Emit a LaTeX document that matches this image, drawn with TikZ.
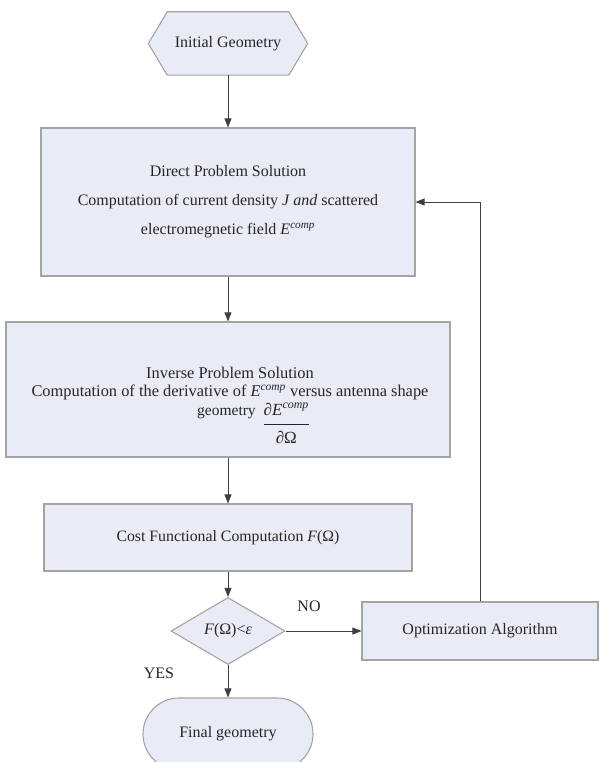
\documentclass[tikz,border=0pt]{standalone}
\usepackage{fontspec}
\setmainfont{Liberation Serif}
\usetikzlibrary{shapes.geometric,arrows.meta}
\definecolor{boxfill}{HTML}{E9ECF6}
\definecolor{boxline}{HTML}{A4A4A4}
\definecolor{conn}{HTML}{404040}
\tikzset{
  box/.style={draw=boxline, fill=boxfill, line width=1.1pt, rectangle, inner sep=0pt},
  txt/.style={font=\fontsize{16}{18}\selectfont, text=black!85, align=center},
  arr/.style={draw=conn, line width=0.8pt, -{Triangle[length=9pt,width=7pt]}},
  lbl/.style={font=\fontsize{16}{18}\selectfont, text=black!85},
}
\begin{document}
\begin{tikzpicture}[x=1pt,y=-1pt]
\clip (0,0) rectangle (615,762);
\fill[white] (0,0) rectangle (615,762);
% start
\node[inner sep=0pt, minimum width=159pt, minimum height=63pt] (init) at (228,43.5) {};
\filldraw[draw=boxline, fill=boxfill, line width=1.1pt]
  (init.west) -- ([xshift=19pt]init.north west) -- ([xshift=-19pt]init.north east)
  -- (init.east) -- ([xshift=-19pt]init.south east) -- ([xshift=19pt]init.south west) -- cycle;
\node[txt] (initT) at (init.center) {Initial Geometry};
% direct
\node[box, txt, minimum width=374pt, minimum height=148pt, font=\fontsize{16}{29}\selectfont] (direct) at (228,202)
  {Direct Problem Solution\\Computation of current density \textit{J and} scattered\\electromegnetic field \textit{E}\textsuperscript{\textit{comp}}};
% inverse
\node[box, minimum width=444pt, minimum height=135pt] (inverse) at (228,389.5) {};
\node[txt, font=\fontsize{16.4}{17.5}\selectfont, anchor=north] (invT) at (230,364)
  {Inverse Problem Solution\\Computation of the derivative of \textit{E}\textsuperscript{\textit{comp}} versus antenna shape};
\node[txt, font=\fontsize{15.5}{18}\selectfont, anchor=base west, inner sep=0pt] (invF) at (197,415)
  {geometry\hspace{8pt}\begin{tabular}[t]{@{}c@{}}{\fontsize{17}{18}\selectfont\textit{∂E}\textsuperscript{\textit{comp}}}\\[4pt]\hline\rule{0pt}{19pt}{\fontsize{17}{18}\selectfont\textit{∂}Ω}\end{tabular}};
% cost
\node[box, txt, font=\fontsize{15.8}{18}\selectfont, minimum width=368pt, minimum height=67pt] (cost) at (228,537.5)
  {Cost Functional Computation \textit{F}(Ω)};
% decision
\node[draw=boxline, fill=boxfill, line width=1.1pt, diamond, inner sep=0pt, minimum width=114pt, minimum height=67pt, txt] (dec) at (228,631)
  {\textit{F}(Ω)<\textit{ε}};
% optimization
\node[box, txt, minimum width=236pt, minimum height=58pt] (opt) at (480,631) {Optimization Algorithm};
% final
\node[box, txt, rounded corners=36pt, minimum width=170pt, minimum height=72pt] (final) at (228,734) {Final geometry};
% connectors
\draw[arr] (init.south) -- (direct.north);
\draw[arr] (direct.south) -- (inverse.north);
\draw[arr] (inverse.south) -- (cost.north);
\draw[arr] (cost.south) -- (dec.north);
\draw[arr] (dec.east) -- (opt.west);
\draw[arr] (dec.south) -- (final.north);
\draw[arr] (opt.north) |- (direct.east);
% labels
\node[lbl] (no) at (309,606) {NO};
\node[lbl] (yes) at (159,673) {YES};
\end{tikzpicture}
\end{document}
